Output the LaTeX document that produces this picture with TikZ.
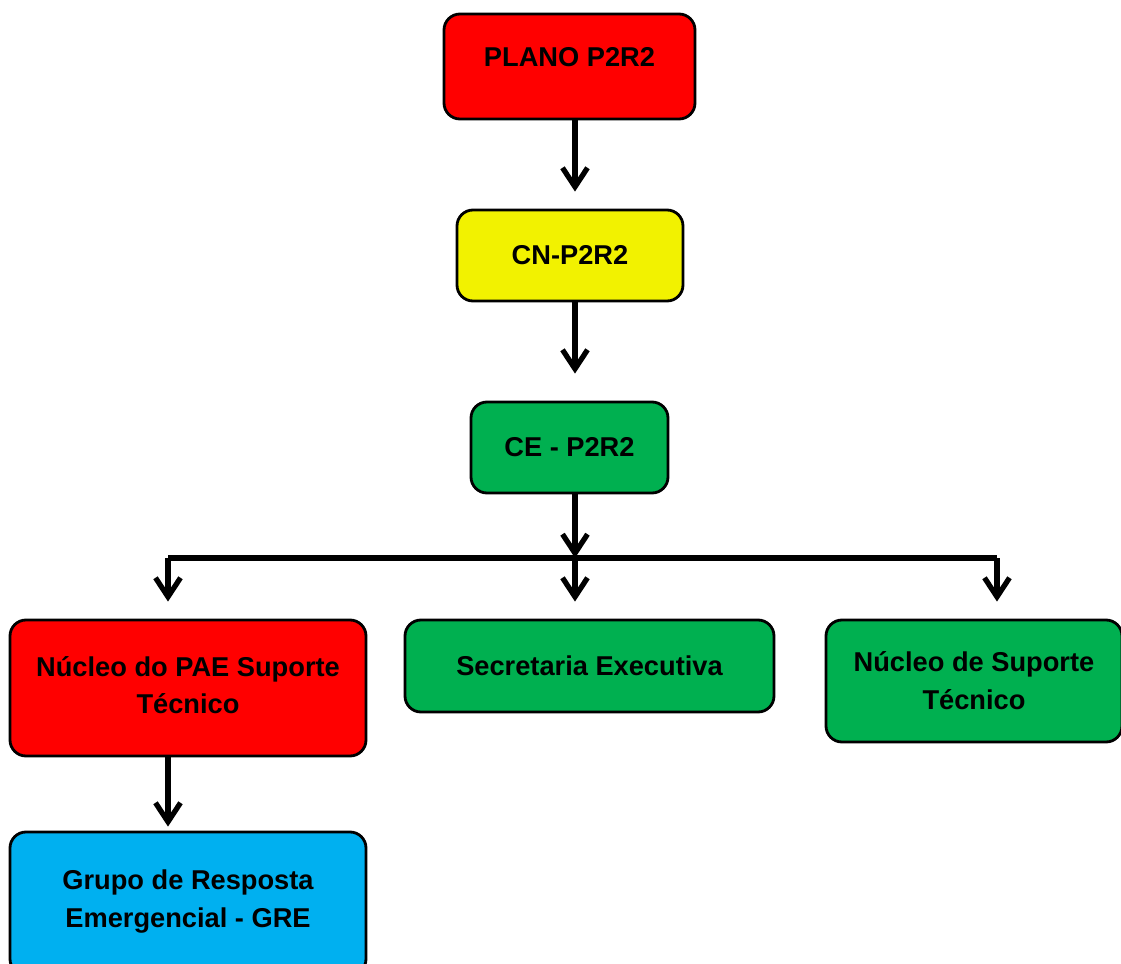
\documentclass[tikz,border=0pt]{standalone}
\usepackage{fontspec}
\setmainfont{Liberation Sans}
\usepackage{tikz}
\usetikzlibrary{arrows.meta, positioning}
\definecolor{boxred}{RGB}{255,0,0}
\definecolor{boxyellow}{RGB}{242,242,0}
\definecolor{boxgreen}{RGB}{0,176,80}
\definecolor{boxblue}{RGB}{0,176,240}

\begin{document}
\begin{tikzpicture}[
  unit/.style={rectangle, draw=black, line width=1.6pt, fill=#1, rounded corners=0.32cm,
               font=\fontsize{15.5}{21.6}\selectfont\bfseries, align=center, inner sep=0pt},
  link/.style={-{Straight Barb[length=3.8mm, width=5mm]}, line width=3pt},
  bus/.style={line width=3pt},
]
  \useasboundingbox (0,0) rectangle (22.42,-19.28);

  % Units
  \node[unit=boxred, minimum width=5.02cm, minimum height=2.1cm, text depth=0.38cm]
       (plano) at (11.39,-1.33) {PLANO P2R2};
  \node[unit=boxyellow, minimum width=4.52cm, minimum height=1.82cm]
       (cn) at (11.4,-5.11) {CN-P2R2};
  \node[unit=boxgreen, minimum width=3.94cm, minimum height=1.82cm]
       (ce) at (11.39,-8.95) {CE - P2R2};

  \node[unit=boxred, minimum width=7.12cm, minimum height=2.72cm, text depth=0.12cm]
       (pae) at (3.76,-13.76) {Núcleo do PAE Suporte\\Técnico};
  \node[unit=boxgreen, minimum width=7.38cm, minimum height=1.84cm]
       (sec) at (11.79,-13.32) {Secretaria Executiva};
  \node[unit=boxgreen, minimum width=5.92cm, minimum height=2.44cm]
       (nst) at (19.48,-13.62) {Núcleo de Suporte\\Técnico};
  \node[unit=boxblue, minimum width=7.12cm, minimum height=2.86cm, text depth=0.2cm]
       (gre) at (3.76,-18.07) {Grupo de Resposta\\Emergencial - GRE};

  % Trunk and bus
  \coordinate (trunk) at (11.5,0);
  \coordinate (bus)   at (11.5,-11.16);
  \coordinate (busL)  at (3.36,-11.16);
  \coordinate (busR)  at (19.94,-11.16);

  % Arrows
  \draw[link, shorten >=0.34cm] (trunk |- plano.south) -- (trunk |- cn.north);
  \draw[link, shorten >=0.54cm] (trunk |- cn.south) -- (trunk |- ce.north);
  \draw[link] (trunk |- ce.south) -- (bus);
  \draw[bus] (busL) -- (busR);
  \foreach \b/\t in {busL/pae, bus/sec, busR/nst}
    \draw[link, shorten >=0.34cm] (\b) -- (\b |- \t.north);
  \draw[link, shorten >=0.08cm] (busL |- pae.south) -- (busL |- gre.north);
\end{tikzpicture}
\end{document}
